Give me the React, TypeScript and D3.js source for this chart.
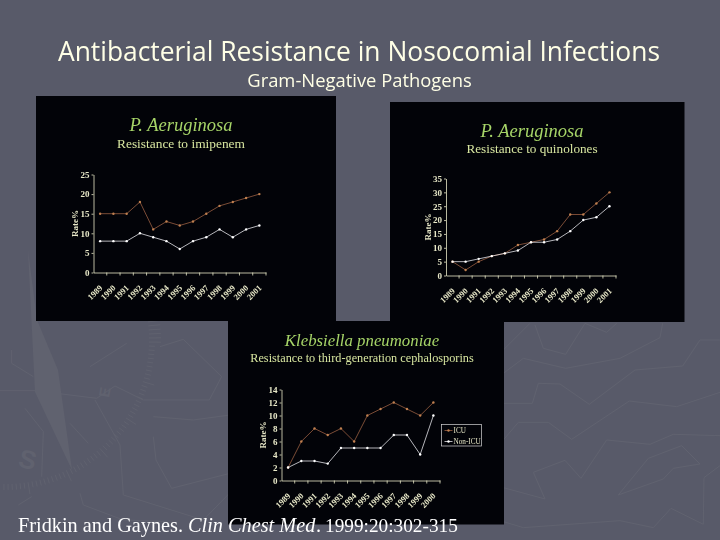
import { useEffect, useRef } from 'react';
import * as d3 from 'd3';

const yearsLong = ['1989', '1990', '1991', '1992', '1993', '1994', '1995', '1996', '1997', '1998', '1999', '2000', '2001'];
const yearsShort = yearsLong.slice(0, 12);

const imipenemIcu = [15, 15, 15, 18, 11, 13, 12, 13, 15, 17, 18, 19, 20];
const imipenemNonIcu = [8, 8, 8, 10, 9, 8, 6, 8, 9, 11, 9, 11, 12];
const quinoloneIcu = [5, 2, 5, 7, 8, 11, 12, 13, 16, 22, 22, 26, 30];
const quinoloneNonIcu = [5, 5, 6, 7, 8, 9, 12, 12, 13, 16, 20, 21, 25];
const klebsiellaIcu = [2, 6, 8, 7, 8, 6, 10, 11, 12, 11, 10, 12];
const klebsiellaNonIcu = [2, 3, 3, 2.6, 5, 5, 5, 5, 7, 7, 4, 10];

const legendLabels = ['ICU', 'Non-ICU'];

const ICU_COLOR = '#9a5f42';
const ICU_MARK = '#c08050';
const NON_ICU_COLOR = '#e4e4ea';
const HEAD_COLOR = '#a6d468';
const SUB_COLOR = '#d8e6a0';
const AXIS_COLOR = '#e8e8c8';
const DECOR = '#60626f';

type Panel = {
	box: [number, number, number, number];
	plot: [number, number, number, number];
	head: string;
	headY: number;
	headSize: number;
	sub: string;
	subY: number;
	subSize: number;
	cx: number;
	years: string[];
	yMax: number;
	yStep: number;
	icu: number[];
	nonIcu: number[];
	legend?: boolean;
};

const panels: Panel[] = [
	{
		box: [36, 96, 336, 321],
		plot: [93.5, 174.5, 266, 272.5],
		head: 'P. Aeruginosa',
		headY: 131,
		headSize: 18.5,
		sub: 'Resistance to imipenem',
		subY: 148,
		subSize: 13.4,
		cx: 181,
		years: yearsLong,
		yMax: 25,
		yStep: 5,
		icu: imipenemIcu,
		nonIcu: imipenemNonIcu,
	},
	{
		box: [390, 102, 684.5, 322],
		plot: [446, 178.5, 616, 275.5],
		head: 'P. Aeruginosa',
		headY: 137,
		headSize: 18.5,
		sub: 'Resistance to quinolones',
		subY: 153,
		subSize: 13.2,
		cx: 532,
		years: yearsLong,
		yMax: 35,
		yStep: 5,
		icu: quinoloneIcu,
		nonIcu: quinoloneNonIcu,
	},
	{
		box: [228, 321, 504, 524.5],
		plot: [281.5, 389.5, 440, 480.5],
		head: 'Klebsiella pneumoniae',
		headY: 346,
		headSize: 16.8,
		sub: 'Resistance to third-generation cephalosporins',
		subY: 362,
		subSize: 12.25,
		cx: 362,
		years: yearsShort,
		yMax: 14,
		yStep: 2,
		icu: klebsiellaIcu,
		nonIcu: klebsiellaNonIcu,
		legend: true,
	},
];

// faint map outlines of the slide template, traced in two crop windows
const contoursLeft: [number, number][][] = [
	[[0, 212], [105, 212], [290, 235], [345, 198], [430, 240], [628, 240], [665, 170], [550, 58], [480, 80]],
	[[285, 240], [360, 375], [370, 525], [610, 600], [690, 518]],
	[[460, 290], [580, 300], [690, 285]],
	[[460, 350], [468, 420], [515, 505], [690, 460]],
	[[75, 265], [130, 335], [125, 470]],
	[[210, 310], [265, 370]],
	[[35, 90], [35, 130], [100, 170]],
	[[240, 520], [250, 555], [370, 600], [500, 605]],
	[[55, 555], [95, 530]],
	[[270, 140], [380, 70]],
];
const contoursRight: [number, number][][] = [
	[[10, 105], [90, 25]],
	[[105, 30], [130, 100], [197, 118], [255, 25], [320, 52], [350, 25]],
	[[10, 175], [70, 130], [197, 160], [360, 130], [480, 68], [488, 25]],
	[[10, 265], [97, 265], [115, 205], [180, 207], [268, 268], [405, 165], [548, 153], [600, 75], [660, 75]],
	[[10, 375], [55, 322], [145, 322], [215, 373], [388, 258], [530, 275], [660, 232]],
	[[10, 518], [135, 552], [100, 472], [195, 436], [243, 490], [320, 375], [450, 388], [520, 358], [660, 362]],
	[[355, 540], [445, 430], [545, 392], [600, 447], [520, 460], [490, 492], [355, 540]],
	[[10, 620], [70, 638], [360, 617], [460, 638], [513, 580], [610, 628], [612, 488], [660, 452]],
];

function drawBackground(svg: d3.Selection<SVGSVGElement, unknown, null, undefined>) {
	svg.append('rect').attr('width', 720).attr('height', 540).attr('fill', '#585a69');

	const decor = svg.append('g').attr('fill', 'none').attr('stroke', DECOR).attr('stroke-width', 1);
	const cx = 5;
	const cy = 340;
	const ringTicks = d3.range(-12, 92, 1.6);
	decor
		.selectAll('line')
		.data(ringTicks)
		.join('line')
		.attr('x1', (a) => cx + 144 * Math.cos((a * Math.PI) / 180))
		.attr('y1', (a) => cy + 144 * Math.sin((a * Math.PI) / 180))
		.attr('x2', (a) => cx + (a % 16 < 1.6 ? 156 : 150) * Math.cos((a * Math.PI) / 180))
		.attr('y2', (a) => cy + (a % 16 < 1.6 ? 156 : 150) * Math.sin((a * Math.PI) / 180));

	const link = d3.line();
	const needle: [number, number][] = [[28, 250], [37, 320], [58, 370], [72, 470], [35, 392]];
	decor
		.append('path')
		.attr('d', link(needle) + 'Z')
		.attr('fill', DECOR)
		.attr('stroke', 'none');

	contoursLeft.forEach((pts) => {
		decor.append('path').attr('d', link(pts)).attr('transform', 'translate(0,320) scale(0.3333)').attr('stroke-width', 3);
	});
	contoursRight.forEach((pts) => {
		decor.append('path').attr('d', link(pts)).attr('transform', 'translate(500,315) scale(0.3333)').attr('stroke-width', 3);
	});

	decor
		.append('text')
		.attr('transform', 'translate(17,466) rotate(15)')
		.attr('font-family', '"Liberation Sans", sans-serif')
		.attr('font-weight', 'bold')
		.attr('font-size', 26)
		.attr('fill', DECOR)
		.attr('stroke', 'none')
		.text('S');
	decor
		.append('text')
		.attr('transform', 'translate(109,398) rotate(-80)')
		.attr('font-family', '"Liberation Sans", sans-serif')
		.attr('font-weight', 'bold')
		.attr('font-size', 15)
		.attr('fill', DECOR)
		.attr('stroke', 'none')
		.text('E');
}

function drawPanel(
	svg: d3.Selection<SVGSVGElement, unknown, null, undefined>,
	p: Panel,
) {
	const [x0, y0, x1, y1] = p.box;
	const [left, top, right, bottom] = p.plot;
	const serif = '"Liberation Serif", serif';

	svg
		.append('rect')
		.attr('x', x0)
		.attr('y', y0)
		.attr('width', x1 - x0)
		.attr('height', y1 - y0)
		.attr('fill', '#020308');

	const g = svg.append('g').attr('filter', 'url(#soft)').style('font-family', serif);

	g.append('text')
		.attr('x', p.cx)
		.attr('y', p.headY)
		.attr('text-anchor', 'middle')
		.attr('font-style', 'italic')
		.attr('font-size', p.headSize)
		.attr('fill', HEAD_COLOR)
		.text(p.head);

	g.append('text')
		.attr('x', p.cx)
		.attr('y', p.subY)
		.attr('text-anchor', 'middle')
		.attr('font-size', p.subSize)
		.attr('fill', SUB_COLOR)
		.text(p.sub);

	const x = d3.scaleBand<string>().domain(p.years).range([left, right]);
	const y = d3.scaleLinear().domain([0, p.yMax]).range([bottom, top]);

	const xAxis = g
		.append('g')
		.attr('transform', `translate(0,${bottom})`)
		.call(d3.axisBottom(x).tickSize(3).tickSizeOuter(0));
	// ticks sit on the band edges, labels on the centres
	xAxis.selectAll<SVGGElement, string>('.tick line').attr('x1', x.bandwidth() / 2).attr('x2', x.bandwidth() / 2);
	xAxis
		.selectAll('.tick text')
		.attr('transform', 'translate(1,14) rotate(-45)')
		.attr('text-anchor', 'end')
		.attr('x', 0)
		.attr('y', 0)
		.attr('dy', '0.32em')
		.attr('font-size', 8.5)
		.attr('font-weight', 'bold')
		.attr('font-family', serif)
		.attr('fill', AXIS_COLOR);

	const yAxis = g
		.append('g')
		.attr('transform', `translate(${left},0)`)
		.call(
			d3
				.axisLeft(y)
				.tickValues(d3.range(0, p.yMax + p.yStep, p.yStep))
				.tickSize(2)
				.tickSizeOuter(0),
		);
	yAxis
		.selectAll('.tick text')
		.attr('x', -4)
		.attr('font-size', 9)
		.attr('font-weight', 'bold')
		.attr('font-family', serif)
		.attr('fill', AXIS_COLOR);

	[xAxis, yAxis].forEach((a) => {
		a.selectAll('.domain, .tick line').attr('stroke', AXIS_COLOR).attr('stroke-width', 0.8);
	});

	g.append('text')
		.attr('transform', `translate(${left - 15.5},${(top + bottom) / 2}) rotate(-90)`)
		.attr('text-anchor', 'middle')
		.attr('font-size', 9)
		.attr('font-weight', 'bold')
		.attr('fill', AXIS_COLOR)
		.text('Rate%');

	const line = d3
		.line<number>()
		.x((_, i) => x(p.years[i])! + x.bandwidth() / 2)
		.y((d) => y(d));

	const series: [number[], string, string][] = [
		[p.icu, ICU_COLOR, ICU_MARK],
		[p.nonIcu, NON_ICU_COLOR, '#ffffff'],
	];
	series.forEach(([values, color, mark]) => {
		g.append('path').attr('d', line(values)).attr('fill', 'none').attr('stroke', color).attr('stroke-width', 0.8);
		g.append('g')
			.selectAll('circle')
			.data(values)
			.join('circle')
			.attr('cx', (_, i) => x(p.years[i])! + x.bandwidth() / 2)
			.attr('cy', (d) => y(d))
			.attr('r', 1.2)
			.attr('fill', mark);
	});

	if (p.legend) {
		const lg = g.append('g').attr('transform', 'translate(441.5,424.5)');
		lg.append('rect')
			.attr('x', 0)
			.attr('y', 0)
			.attr('width', 40)
			.attr('height', 21.5)
			.attr('fill', 'none')
			.attr('stroke', '#d8d8d8')
			.attr('stroke-width', 0.7);
		legendLabels.forEach((label, i) => {
			const rowY = 6 + i * 11;
			const color = i === 0 ? ICU_COLOR : NON_ICU_COLOR;
			lg.append('line')
				.attr('x1', 3)
				.attr('x2', 11)
				.attr('y1', rowY)
				.attr('y2', rowY)
				.attr('stroke', color)
				.attr('stroke-width', 0.8);
			lg.append('circle').attr('cx', 7).attr('cy', rowY).attr('r', 1.2).attr('fill', i === 0 ? ICU_MARK : '#ffffff');
			lg.append('text')
				.attr('x', 12)
				.attr('y', rowY + 2.6)
				.attr('font-size', 7.2)
				.attr('fill', AXIS_COLOR)
				.text(label);
		});
	}
}

export default function App() {
	const svgRef = useRef<SVGSVGElement | null>(null);

	useEffect(() => {
		if (!svgRef.current) return;
		const svg = d3.select(svgRef.current);
		svg.selectAll('*').remove();

		svg
			.append('defs')
			.append('filter')
			.attr('id', 'soft')
			.append('feGaussianBlur')
			.attr('stdDeviation', 0.25);

		drawBackground(svg);
		panels.forEach((p) => drawPanel(svg, p));

		svg
			.append('text')
			.attr('x', 359)
			.attr('y', 61)
			.attr('text-anchor', 'middle')
			.attr('font-family', '"Open Sans", sans-serif')
			.attr('font-size', 26.4)
			.attr('fill', '#ffffe6')
			.text('Antibacterial Resistance in Nosocomial Infections');

		svg
			.append('text')
			.attr('x', 359.5)
			.attr('y', 87)
			.attr('text-anchor', 'middle')
			.attr('font-family', '"Open Sans", sans-serif')
			.attr('font-size', 18.4)
			.attr('fill', '#ffffe6')
			.text('Gram-Negative Pathogens');

		const cite = svg
			.append('text')
			.attr('y', 531.5)
			.attr('font-family', '"Liberation Serif", serif')
			.attr('font-size', 20.3)
			.attr('fill', '#ffffff');
		cite.append('tspan').attr('x', 18).text('Fridkin and Gaynes.');
		cite.append('tspan').attr('x', 188).attr('font-style', 'italic').text('Clin Chest Med');
		cite.append('tspan').attr('x', 316).text('.');
		cite.append('tspan').attr('x', 325).attr('font-size', 19.3).text('1999:20:302-315');
	}, []);

	return <svg ref={svgRef} width={720} height={540} style={{ position: 'fixed', left: 0, top: 0 }} />;
}
